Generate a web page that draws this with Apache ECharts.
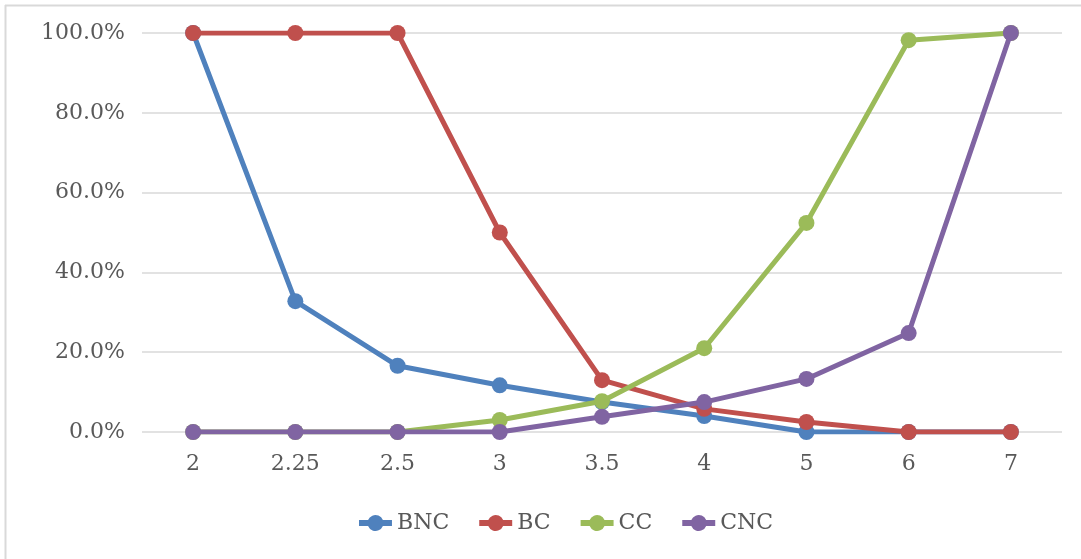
<!DOCTYPE html>
<html>
<head>
<meta charset="utf-8">
<script src="https://cdn.jsdelivr.net/npm/echarts@6/dist/echarts.min.js"></script>
<style>
html,body{margin:0;padding:0;background:#fff;}
#chart{width:1081px;height:559px;}
</style>
</head>
<body>
<div id="chart"></div>
<script>
const categories = ['2','2.25','2.5','3','3.5','4','5','6','7'];
const BNC = [100, 32.8, 16.6, 11.7, 7.5, 4.0, 0, 0, 0];
const BC  = [100, 100, 100, 50.0, 13.0, 5.8, 2.5, 0, 0];
const CC  = [0, 0, 0, 3.0, 7.7, 21.0, 52.4, 98.2, 100];
const CNC = [0, 0, 0, 0, 3.8, 7.5, 13.3, 24.8, 100];
const yTicks = [0, 20, 40, 60, 80, 100];

const FONT = 'DejaVu Serif';
const colors = ['#4f81bd', '#c0504d', '#9bbb59', '#8064a2'];
const names = ['BNC', 'BC', 'CC', 'CNC'];
const data = [BNC, BC, CC, CNC];
const legendIcon = 'path://M0,5 H9.08 A8,8 0 0,1 23.92,5 H33 V11 H23.92 A8,8 0 0,1 9.08,11 H0 Z';

const chart = echarts.init(document.getElementById('chart'));
chart.setOption({
  animation: false,
  color: colors,
  textStyle: { fontFamily: FONT },
  graphic: [
    { type: 'line', shape: { x1: 5, y1: 5.5, x2: 1081, y2: 5.5 }, style: { stroke: '#d9d9d9', lineWidth: 2 } },
    { type: 'line', shape: { x1: 5.5, y1: 5, x2: 5.5, y2: 559 }, style: { stroke: '#d9d9d9', lineWidth: 2 } }
  ],
  grid: { left: 142, right: 19, top: 33, bottom: 127, containLabel: false },
  legend: {
    data: names.map(n => ({ name: n, icon: legendIcon })),
    top: 512,
    left: 359,
    padding: 0,
    itemWidth: 33,
    itemHeight: 16,
    itemGap: 30,
    textStyle: { fontFamily: FONT, fontSize: 22, color: '#595959' }
  },
  xAxis: {
    type: 'category',
    data: categories,
    boundaryGap: true,
    axisLine: { show: false },
    axisTick: { show: false },
    axisLabel: { fontFamily: FONT, fontSize: 22, color: '#595959', margin: 21 }
  },
  yAxis: {
    type: 'value',
    min: 0,
    max: 100,
    interval: 20,
    axisLine: { show: false },
    axisTick: { show: false },
    splitLine: { lineStyle: { color: '#d9d9d9', width: 1.5 } },
    axisLabel: {
      fontFamily: FONT, fontSize: 22, color: '#595959', margin: 17,
      formatter: v => yTicks.includes(v) ? v.toFixed(1) + '%' : ''
    }
  },
  series: names.map((n, i) => ({
    name: n,
    type: 'line',
    data: data[i],
    symbol: 'circle',
    symbolSize: 16,
    lineStyle: { width: 5, color: colors[i] },
    itemStyle: { color: colors[i] },
    z: 2 + i
  }))
});
</script>
</body>
</html>
